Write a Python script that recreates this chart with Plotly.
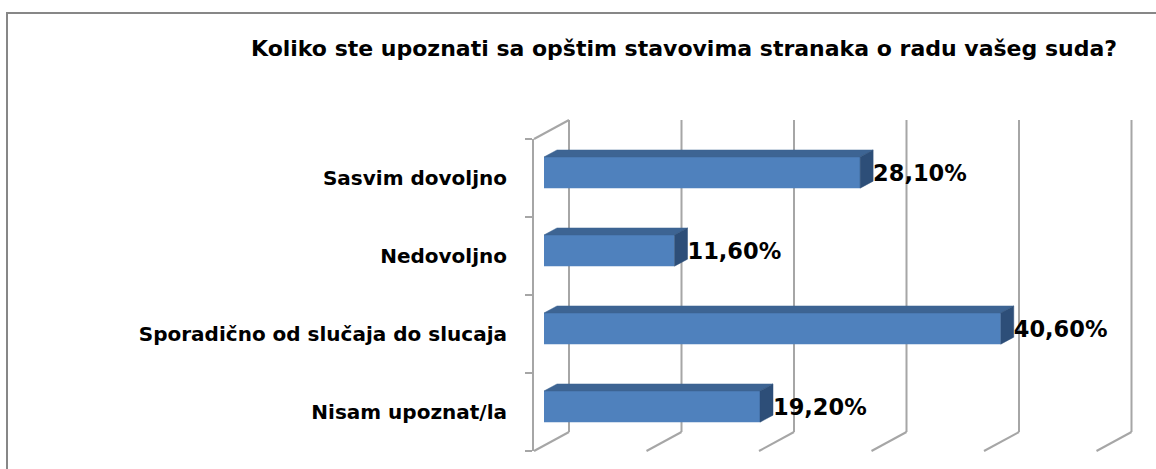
import plotly.graph_objects as go

# ---------------- data ----------------
categories = ["Sasvim dovoljno", "Nedovoljno", "Sporadično od slučaja do slucaja", "Nisam upoznat/la"]
values = [28.1, 11.6, 40.6, 19.2]
value_labels = ["28,10%", "11,60%", "40,60%", "19,20%"]
grid_ticks = [0, 10, 20, 30, 40, 50]
title_text = "Koliko ste upoznati sa opštim stavovima stranaka o radu vašeg suda?"

# ---------------- geometry / style ----------------
W, H = 1156, 469
WALL_PX = 534          # front wall (y axis line) in pixels
ZERO_PX = 544          # bar front plane origin
UNIT_PX = 11.25        # pixels per percentage point
TOP_PX, BOT_PX = 139, 451
ROW_PX = (BOT_PX - TOP_PX) / len(categories)

DEPTH_X, DEPTH_Y = 35, 19          # full depth of the 3D box (px)
BAR_DX, BAR_DY = 13, 7             # depth of the bars (px)
BAR_SHIFT_X = ZERO_PX - WALL_PX    # bars sit a bit behind the front wall
BAR_UP = (BAR_SHIFT_X * DEPTH_Y / DEPTH_X) / ROW_PX
BAR_W = 0.4
LABEL_DROP = 3 / ROW_PX

FRONT = "#4F81BD"
TOP = "#3D6493"
SIDE = "#2D4E78"
GRID = "#A6A6A6"
FONT = "DejaVu Sans"

x_range = [(WALL_PX - ZERO_PX) / UNIT_PX, (W - ZERO_PX) / UNIT_PX]
dxu = BAR_DX / UNIT_PX
dyu = BAR_DY / ROW_PX
positions = list(range(len(categories)))

fig = go.Figure()

fig.add_trace(go.Bar(
    x=values, y=positions, orientation="h",
    width=BAR_W, offset=-BAR_W / 2 - BAR_UP,
    marker=dict(color=FRONT, line=dict(width=0)),
    hoverinfo="skip", showlegend=False,
))

for i, v in enumerate(values):
    yt = i - BAR_W / 2 - BAR_UP
    yb = yt + BAR_W
    fig.add_trace(go.Scatter(
        x=[0, v, v + dxu, dxu, 0], y=[yt, yt, yt - dyu, yt - dyu, yt],
        mode="lines", fill="toself", fillcolor=TOP,
        line=dict(color=TOP, width=0.5), hoverinfo="skip", showlegend=False,
    ))
    fig.add_trace(go.Scatter(
        x=[v, v + dxu, v + dxu, v, v], y=[yt, yt - dyu, yb - dyu, yb, yt],
        mode="lines", fill="toself", fillcolor=SIDE,
        line=dict(color=SIDE, width=0.5), hoverinfo="skip", showlegend=False,
    ))

fig.add_trace(go.Scatter(
    x=[v + dxu for v in values], y=[p - BAR_UP + LABEL_DROP for p in positions],
    mode="text", text=value_labels, textposition="middle right",
    textfont=dict(family=FONT, size=22.5, color="#000000", weight="bold"),
    cliponaxis=False, hoverinfo="skip", showlegend=False,
))

shapes = []
# outer chart border
shapes.append(dict(type="rect", xref="paper", yref="paper",
                   x0=7 / W, x1=1.02, y0=-0.02, y1=1 - 13 / H,
                   line=dict(color="#878787", width=2), layer="below"))
back_dx = DEPTH_X - BAR_SHIFT_X
for t in grid_ticks:
    # back wall gridline
    shapes.append(dict(type="line", xref="x", yref="y domain",
                       xsizemode="pixel", xanchor=t, x0=back_dx, x1=back_dx,
                       ysizemode="pixel", yanchor=1,
                       y0=DEPTH_Y, y1=-(BOT_PX - TOP_PX) + DEPTH_Y,
                       line=dict(color=GRID, width=2), layer="below"))
    # floor diagonal
    shapes.append(dict(type="line", xref="x", yref="y domain",
                       xsizemode="pixel", xanchor=t, x0=back_dx, x1=back_dx - DEPTH_X,
                       ysizemode="pixel", yanchor=0,
                       y0=DEPTH_Y, y1=0,
                       line=dict(color=GRID, width=2), layer="below"))
# top edge of the side wall
shapes.append(dict(type="line", xref="x domain", yref="y domain",
                   xsizemode="pixel", xanchor=0, x0=0, x1=DEPTH_X,
                   ysizemode="pixel", yanchor=1, y0=0, y1=DEPTH_Y,
                   line=dict(color=GRID, width=2), layer="below"))

fig.update_layout(
    width=W, height=H, autosize=False,
    margin=dict(l=0, r=0, t=0, b=0),
    paper_bgcolor="white", plot_bgcolor="rgba(0,0,0,0)",
    showlegend=False,
    title=dict(text=title_text, x=684 / W, xanchor="center",
               y=1 - 48 / H, yanchor="middle", xref="container", yref="container",
               font=dict(family=FONT, size=22, color="#000000", weight="bold")),
    xaxis=dict(domain=[WALL_PX / W, 1], range=x_range, visible=False,
               showgrid=False, zeroline=False),
    yaxis=dict(domain=[1 - BOT_PX / H, 1 - TOP_PX / H],
               range=[len(categories) - 0.5, -0.5],
               tickmode="array", tickvals=positions, ticktext=categories,
               ticks="", ticklabelstandoff=21,
               tickfont=dict(family=FONT, size=20, color="#000000", weight="bold"),
               showline=True, linecolor=GRID, linewidth=2,
               showgrid=False, zeroline=False,
               minor=dict(tickmode="array",
                          tickvals=[p - 0.5 for p in positions] + [len(categories) - 0.5],
                          ticks="outside", ticklen=7, tickcolor=GRID, tickwidth=2,
                          showgrid=False)),
    shapes=shapes,
)

fig.write_html("out.html", config={"displayModeBar": False},
               post_script="document.body.style.margin='0';")
